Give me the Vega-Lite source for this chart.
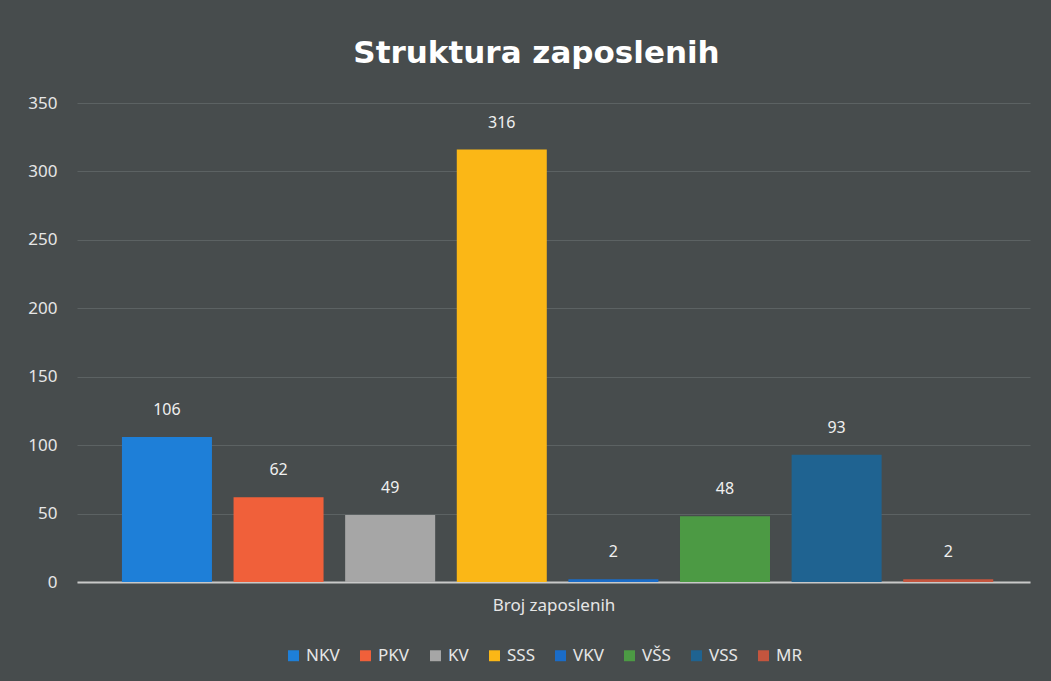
{
  "$schema": "https://vega.github.io/schema/vega-lite/v6.json",
  "width": 953,
  "height": 479,
  "autosize": {"type": "none"},
  "padding": {"left": 77, "top": 103, "right": 21, "bottom": 99},
  "background": "#474c4d",
  "title": {
    "text": "Struktura zaposlenih",
    "font": "DejaVu Sans",
    "fontSize": 31,
    "fontWeight": "bold",
    "color": "#ffffff",
    "anchor": "middle",
    "dx": -17,
    "offset": 24
  },
  "config": {
    "view": {"stroke": null},
    "font": "Noto Sans"
  },
  "data": {
    "values": [
      {"kategorija": "NKV", "broj": 106},
      {"kategorija": "PKV", "broj": 62},
      {"kategorija": "KV", "broj": 49},
      {"kategorija": "SSS", "broj": 316},
      {"kategorija": "VKV", "broj": 2},
      {"kategorija": "VŠS", "broj": 48},
      {"kategorija": "VSS", "broj": 93},
      {"kategorija": "MR", "broj": 2}
    ]
  },
  "encoding": {
    "x": {
      "field": "kategorija",
      "type": "nominal",
      "sort": null,
      "scale": {"paddingInner": 0.1935, "paddingOuter": 0.366, "align": 0.55},
      "axis": {
        "title": "Broj zaposlenih",
        "titleColor": "#e6e6e6",
        "titleFontSize": 17,
        "titleFontWeight": "normal",
        "titlePadding": 15,
        "labels": false,
        "ticks": false,
        "domainColor": "#c9c9c9",
        "domainWidth": 2
      }
    },
    "y": {
      "field": "broj",
      "type": "quantitative",
      "scale": {"domain": [0, 350], "nice": false},
      "axis": {
        "title": null,
        "values": [0, 50, 100, 150, 200, 250, 300, 350],
        "labelColor": "#e6e6e6",
        "labelFontSize": 17,
        "labelPadding": 20,
        "ticks": false,
        "domain": false,
        "gridColor": "#5c6263",
        "gridWidth": 1
      }
    }
  },
  "layer": [
    {
      "mark": {"type": "bar"},
      "encoding": {
        "color": {
          "field": "kategorija",
          "type": "nominal",
          "sort": null,
          "scale": {
            "domain": ["NKV", "PKV", "KV", "SSS", "VKV", "VŠS", "VSS", "MR"],
            "range": ["#1e7fd8", "#f0603a", "#a6a6a6", "#fbb716", "#1a6cc8", "#4c9a44", "#1f6391", "#c4553e"]
          },
          "legend": {
            "title": null,
            "orient": "none",
            "legendX": 208,
            "legendY": 544,
            "direction": "horizontal",
            "symbolType": "square",
            "symbolSize": 120,
            "symbolStrokeWidth": 0,
            "labelColor": "#e6e6e6",
            "labelFontSize": 17,
            "columnPadding": 17,
            "symbolOffset": 0,
            "labelOffset": 4
          }
        }
      }
    },
    {
      "mark": {"type": "text", "dy": -27, "baseline": "middle", "color": "#f0f0f0", "fontSize": 16},
      "encoding": {
        "text": {"field": "broj", "type": "quantitative"}
      }
    }
  ]
}
